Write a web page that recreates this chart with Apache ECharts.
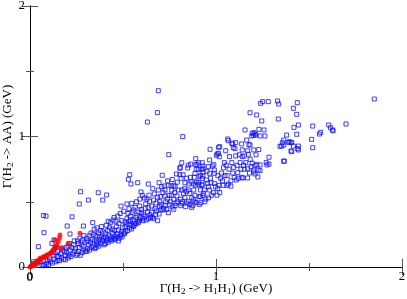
<!DOCTYPE html>
<html><head><meta charset="utf-8">
<script src="https://cdn.jsdelivr.net/npm/echarts@6/dist/echarts.min.js"></script>
<style>html,body{margin:0;padding:0;background:#fff}#c{width:407px;height:299px}</style>
</head><body><div id="c"></div>
<script>
// Axis ranges / ticks
var xTicks = [0, 1, 2];
var yTicks = [0, 1, 2];
var xTitle = 'Γ(H{s|2} -> H{s|1}H{s|1}) (GeV)';
var yTitle = 'Γ(H{s|2} -> AA) (GeV)';

// Blue open squares: [Γ(H2->H1H1), Γ(H2->AA)]
var bluePoints = [
[0.018,0.04],[0.045,0.156],[0.03,0.02],[0.04,0.03],
[0.072,0.395],[0.086,0.39],[0.075,0.263],[0.054,0.041],[0.072,0.01],[0.08,0.02],[0.09,0.03],[0.065,0.015],[0.095,0.05],[0.1,0.02],
[0.118,0.181],[0.129,0.207],[0.11,0.04],[0.12,0.03],[0.13,0.06],[0.14,0.04],[0.145,0.08],[0.125,0.09],[0.105,0.06],[0.135,0.11],[0.15,0.05],[0.148,0.12],
[0.16,0.05],[0.17,0.07],[0.18,0.06],[0.19,0.09],[0.165,0.1],[0.175,0.13],[0.185,0.12],[0.195,0.15],[0.155,0.08],[0.2,0.314],[0.19,0.055],[0.172,0.145],[0.198,0.11],
[0.215,0.253],[0.226,0.385],[0.205,0.07],[0.21,0.09],[0.22,0.08],[0.23,0.1],[0.24,0.12],[0.215,0.13],[0.225,0.15],[0.235,0.17],[0.245,0.14],[0.205,0.16],[0.248,0.09],[0.238,0.2],[0.212,0.18],
[0.265,0.483],[0.272,0.577],[0.287,0.314],[0.255,0.1],[0.26,0.12],[0.27,0.09],[0.28,0.11],[0.29,0.13],[0.265,0.15],[0.275,0.17],[0.285,0.16],[0.295,0.19],[0.255,0.2],[0.268,0.22],[0.29,0.24],[0.282,0.205],[0.298,0.12],[0.26,0.18],
[0.314,0.513],[0.337,0.34],[0.305,0.12],[0.31,0.14],[0.32,0.13],[0.33,0.15],[0.34,0.16],[0.315,0.17],[0.325,0.19],[0.335,0.21],[0.345,0.2],[0.305,0.22],[0.318,0.24],[0.328,0.26],[0.342,0.25],[0.348,0.14],[0.31,0.2],[0.345,0.29],
[0.367,0.569],[0.391,0.513],[0.355,0.15],[0.36,0.17],[0.37,0.16],[0.38,0.18],[0.39,0.2],[0.365,0.19],[0.375,0.21],[0.385,0.23],[0.395,0.22],[0.355,0.24],[0.368,0.26],[0.378,0.28],[0.392,0.27],[0.36,0.3],[0.385,0.31],[0.398,0.17],[0.372,0.23],[0.358,0.2],
[0.412,0.552],[0.405,0.18],[0.41,0.2],[0.42,0.19],[0.43,0.21],[0.44,0.2],[0.415,0.22],[0.425,0.24],[0.435,0.23],[0.445,0.26],[0.405,0.26],[0.418,0.28],[0.428,0.3],[0.442,0.29],[0.41,0.32],[0.432,0.34],[0.447,0.36],[0.42,0.35],[0.445,0.22],[0.402,0.23],
[0.489,0.467],[0.457,0.238],[0.464,0.309],[0.468,0.253],[0.475,0.284],[0.478,0.335],[0.486,0.238],[0.493,0.273],[0.493,0.355],[0.455,0.21],[0.46,0.22],[0.47,0.23],[0.48,0.22],[0.49,0.25],[0.455,0.28],[0.462,0.35],[0.472,0.39],[0.485,0.41],[0.452,0.38],[0.498,0.3],[0.475,0.2],[0.495,0.23],
[0.504,0.427],[0.507,0.253],[0.511,0.309],[0.511,0.345],[0.521,0.483],[0.521,0.37],[0.529,0.672],[0.532,0.447],[0.536,0.707],[0.536,0.324],[0.539,0.391],[0.543,0.636],[0.547,0.488],[0.505,0.26],[0.515,0.27],[0.525,0.28],[0.535,0.3],[0.545,0.29],[0.52,0.33],[0.53,0.35],[0.54,0.36],[0.548,0.32],[0.527,0.41],[0.55,0.42],
[0.557,0.437],[0.565,0.457],[0.565,0.335],[0.575,0.396],[0.579,0.646],[0.583,0.34],[0.59,0.467],[0.597,0.575],[0.555,0.31],[0.56,0.32],[0.57,0.33],[0.58,0.35],[0.59,0.36],[0.595,0.38],[0.555,0.36],[0.568,0.38],[0.585,0.42],[0.598,0.44],[0.572,0.5],[0.59,0.52],
[0.6,0.416],[0.604,0.549],[0.608,0.355],[0.615,0.529],[0.618,0.385],[0.622,0.483],[0.629,0.519],[0.631,1.111],[0.636,0.636],[0.636,0.457],[0.636,0.37],[0.643,0.503],[0.605,0.37],[0.612,0.4],[0.625,0.36],[0.632,0.42],[0.645,0.4],[0.62,0.45],[0.64,0.55],[0.648,0.38],
[0.654,0.467],[0.658,0.381],[0.665,0.513],[0.672,0.447],[0.685,1.183],[0.686,0.534],[0.686,0.355],[0.69,1.351],[0.69,0.59],[0.694,0.646],[0.694,0.406],[0.697,0.462],[0.655,0.42],[0.665,0.37],[0.675,0.4],[0.68,0.43],[0.668,0.56],[0.678,0.49],[0.66,0.6],[0.698,0.5],
[0.701,0.539],[0.708,0.615],[0.711,0.703],[0.722,0.621],[0.726,0.59],[0.726,0.544],[0.726,0.473],[0.744,0.626],[0.744,0.416],[0.746,0.861],[0.751,0.477],[0.705,0.44],[0.715,0.437],[0.72,0.45],[0.73,0.5],[0.738,0.52],[0.715,0.57],[0.735,0.44],[0.748,0.55],[0.705,0.48],[0.74,0.66],
[0.758,0.621],[0.762,0.59],[0.773,0.626],[0.773,0.442],[0.773,0.519],[0.78,0.615],[0.787,0.713],[0.79,0.544],[0.797,0.59],[0.755,0.5],[0.765,0.46],[0.78,0.47],[0.785,0.49],[0.795,0.5],[0.76,0.55],[0.778,0.57],[0.792,0.65],[0.765,0.67],
[0.805,0.707],[0.806,0.756],[0.808,0.764],[0.808,0.519],[0.816,0.799],[0.816,0.59],[0.816,0.488],[0.821,0.999],[0.823,0.707],[0.833,0.646],[0.833,0.534],[0.837,0.462],[0.848,0.759],[0.81,0.47],[0.82,0.5],[0.825,0.56],[0.83,0.6],[0.845,0.49],[0.84,0.58],[0.812,0.68],[0.842,0.68],
[0.851,0.78],[0.851,0.59],[0.851,0.503],[0.855,0.636],[0.859,0.565],[0.862,0.687],[0.864,0.789],[0.866,0.651],[0.869,0.457],[0.88,0.636],[0.88,0.59],[0.88,0.513],[0.883,0.687],[0.887,0.549],[0.887,0.718],[0.887,0.498],[0.891,0.784],[0.891,0.83],[0.891,0.626],[0.894,0.651],[0.894,0.493],[0.894,0.749],[0.898,0.784],[0.86,0.48],[0.875,0.47],[0.87,0.53],
[0.905,0.749],[0.905,0.799],[0.905,0.646],[0.909,0.631],[0.909,0.692],[0.909,0.539],[0.916,0.703],[0.916,0.59],[0.916,0.539],[0.919,0.493],[0.923,0.749],[0.923,0.626],[0.926,0.799],[0.926,0.631],[0.926,0.677],[0.93,0.753],[0.93,0.697],[0.93,0.774],[0.93,0.728],[0.93,0.549],[0.934,0.565],[0.937,0.59],[0.948,0.667],[0.94,0.5],[0.945,0.52],[0.91,0.48],
[0.952,0.733],[0.959,0.769],[0.959,0.615],[0.966,0.718],[0.966,0.82],[0.966,0.59],[0.968,0.902],[0.973,0.646],[0.98,0.774],[0.988,0.784],[0.991,0.743],[0.991,0.718],[0.991,0.641],[0.998,0.615],[0.96,0.53],[0.975,0.55],[0.985,0.57],[0.97,0.68],[0.955,0.64],
[1.002,0.856],[1.007,0.866],[1.009,0.6],[1.013,0.871],[1.014,0.917],[1.016,0.626],[1.018,0.845],[1.02,0.922],[1.038,0.626],[1.005,0.55],[1.02,0.57],[1.025,0.68],[1.03,0.72],[1.04,0.76],[1.045,0.8],[1.035,0.66],[1.01,0.7],[1.048,0.7],
[1.052,0.891],[1.059,0.626],[1.063,0.981],[1.066,0.968],[1.066,0.636],[1.073,0.846],[1.085,0.948],[1.09,0.943],[1.093,0.914],[1.095,0.764],[1.098,0.687],[1.06,0.7],[1.07,0.75],[1.08,0.66],[1.085,0.8],[1.055,0.78],[1.09,0.72],[1.08,0.62],
[1.102,0.907],[1.106,0.953],[1.106,0.851],[1.109,0.667],[1.113,0.779],[1.117,0.723],[1.134,0.749],[1.138,0.943],[1.139,0.687],[1.141,0.897],[1.141,0.846],[1.12,0.68],[1.13,0.8],[1.145,0.682],[1.125,0.86],[1.148,0.78],
[1.152,0.851],[1.152,0.749],[1.156,1.05],[1.165,0.973],[1.17,0.891],[1.17,0.753],[1.17,0.682],[1.174,0.864],[1.177,0.937],[1.183,1.182],[1.183,0.935],[1.184,0.825],[1.188,0.769],[1.192,1.004],[1.195,1.025],[1.195,0.795],[1.16,0.8],[1.18,0.72],
[1.203,1.009],[1.203,0.897],[1.203,0.743],[1.203,0.728],[1.204,1.029],[1.21,1.019],[1.21,0.779],[1.21,0.713],[1.215,1.011],[1.219,1.165],[1.22,0.784],[1.227,0.743],[1.231,1.055],[1.237,1.004],[1.237,0.782],[1.237,0.738],[1.24,1.254],[1.246,1.119],[1.225,0.69],[1.215,0.86],[1.23,0.9],
[1.251,1.267],[1.258,1.05],[1.263,1.004],[1.281,1.267],[1.285,0.841],[1.285,0.789],[1.274,0.782],[1.27,0.8],
[1.331,1.272],[1.337,1.249],[1.335,1.134],[1.344,0.925],[1.353,0.927],[1.357,0.953],[1.364,0.973],[1.364,0.935],[1.364,0.81],[1.367,0.812],[1.38,1.011],[1.389,0.955],[1.394,0.96],
[1.403,0.955],[1.403,0.889],[1.407,0.953],[1.407,0.884],[1.416,1.216],[1.416,0.927],[1.419,1.07],[1.434,1.17],[1.434,1.017],[1.437,1.259],[1.437,0.907],[1.443,1.088],[1.443,0.927],[1.443,0.897],
[1.514,0.978],[1.52,1.08],[1.52,0.914],[1.556,1.019],[1.563,1.032],[1.606,1.088],[1.616,1.067],[1.627,1.05],[1.629,1.044],[1.699,1.096],[1.851,1.287]
];

// Red filled circles
var redPoints = [
[0,0],[0.005,0.005],[0.01,0.01],[0.015,0.015],[0.018,0.028],[0.025,0.02],[0.03,0.03],[0.036,0.048],[0.036,0.035],[0.045,0.045],
[0.054,0.067],[0.054,0.055],[0.06,0.06],[0.072,0.079],[0.068,0.07],[0.08,0.075],[0.09,0.092],[0.085,0.085],[0.1,0.095],[0.108,0.105],
[0.115,0.11],[0.12,0.12],[0.125,0.13],[0.13,0.14],[0.134,0.156],[0.138,0.15],[0.143,0.169],[0.147,0.156],[0.152,0.194],[0.158,0.22],
[0.161,0.245],[0.134,0.207],[0.17,0.143],[0.206,0.181],[0.269,0.258]
];

var chart = echarts.init(document.getElementById('c'), null, {renderer: 'canvas'});
var FONT = 'Liberation Serif';
var rich = {
  s: {fontFamily: FONT, fontSize: 9, color: '#000', verticalAlign: 'bottom', lineHeight: 9}
};
function axisBase(show, margin, ticks) {
  return {
    type: 'value', min: 0, max: 2, interval: 1,
    axisLine: {show: true, lineStyle: {color: '#000', width: 1}},
    axisTick: {show: true, inside: true, length: 8, lineStyle: {color: '#555', width: 1}},
    minorTick: {show: true, splitNumber: 2, length: 4, lineStyle: {color: '#555', width: 1}},
    splitLine: {show: false},
    axisLabel: {show: show, showMinLabel: true, showMaxLabel: true, hideOverlap: false,
                customValues: ticks,
                fontFamily: FONT, fontSize: 13, color: '#000', margin: margin}
  };
}
var xb = axisBase(true, 3, xTicks);
xb.name = xTitle; xb.nameLocation = 'middle'; xb.nameGap = 15; xb.nameMoveOverlap = false;
xb.nameTextStyle = {fontFamily: FONT, fontSize: 13, color: '#000', lineHeight: 14, rich: rich};
var yb = axisBase(true, 5, yTicks);
yb.name = yTitle; yb.nameLocation = 'middle'; yb.nameGap = 15; yb.nameMoveOverlap = false;
yb.nameTextStyle = {fontFamily: FONT, fontSize: 13, color: '#000', lineHeight: 14, rich: rich};
var xt = axisBase(false, 3, xTicks); xt.position = 'top';
var yr = axisBase(false, 5, yTicks); yr.position = 'right';

chart.setOption({
  animation: false,
  grid: {left: 30, right: 5, top: 6, bottom: 32, containLabel: false, outerBoundsMode: 'none'},
  xAxis: [xb, xt],
  yAxis: [yb, yr],
  series: [
    {type: 'scatter', xAxisIndex: 0, yAxisIndex: 0, data: bluePoints, symbol: 'rect', symbolSize: 4,
     itemStyle: {color: 'rgba(0,0,0,0)', borderColor: '#1010ff', borderWidth: 1}},
    {type: 'scatter', xAxisIndex: 0, yAxisIndex: 0, data: redPoints, symbol: 'circle', symbolSize: 5,
     itemStyle: {color: '#ff0000'}}
  ]
});
// x-axis origin label (the library drops it where the two axes cross)
var origin = null;
try { origin = chart.convertToPixel({gridIndex: 0}, [xTicks[0], yTicks[0]]); } catch (e) { origin = null; }
if (!origin || isNaN(origin[0])) {
  var rect = chart.getModel().getComponent('grid', 0).coordinateSystem.getRect();
  origin = [rect.x, rect.y + rect.height];
}
chart.setOption({
  graphic: [{type: 'text', left: origin[0] - 3.5, top: origin[1] + 4, silent: true, z: 100,
    style: {text: String(xTicks[0]), fontSize: 13, fontFamily: FONT, fill: '#000'}}]
});
</script>
</body></html>
